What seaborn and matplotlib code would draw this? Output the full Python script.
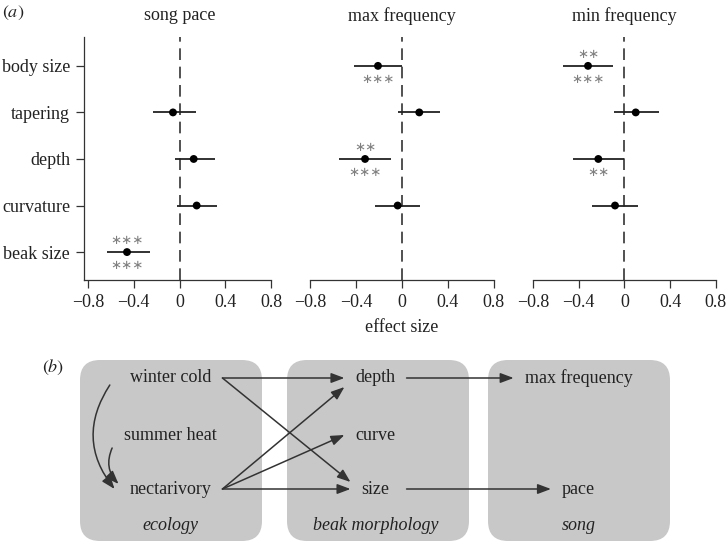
import numpy as np
import pandas as pd
import matplotlib
matplotlib.use("Agg")
import matplotlib.pyplot as plt
from matplotlib.patches import FancyBboxPatch
import seaborn as sns

# ---- data (panel a) ----
predictors = ["body size", "tapering", "depth", "curvature", "beak size"]
responses = ["song pace", "max frequency", "min frequency"]

pace_est = [np.nan, -0.057, 0.124, 0.150, -0.459]
pace_lo = [np.nan, -0.229, -0.037, -0.024, -0.636]
pace_hi = [np.nan, 0.144, 0.310, 0.328, -0.260]
pace_above = ["", "", "", "", "***"]
pace_below = ["", "", "", "", "***"]

maxf_est = [-0.210, 0.151, -0.323, -0.038, np.nan]
maxf_lo = [-0.420, -0.035, -0.548, -0.233, np.nan]
maxf_hi = [0.003, 0.335, -0.099, 0.160, np.nan]
maxf_above = ["", "", "**", "", ""]
maxf_below = ["***", "", "***", "", ""]

minf_est = [-0.318, 0.099, -0.228, -0.082, np.nan]
minf_lo = [-0.534, -0.091, -0.449, -0.283, np.nan]
minf_hi = [-0.100, 0.300, 0.000, 0.116, np.nan]
minf_above = ["**", "", "", "", ""]
minf_below = ["***", "", "**", "", ""]

xticks = [-0.8, -0.4, 0, 0.4, 0.8]
xtick_labels = ["\u22120.8", "\u22120.4", "0", "0.4", "0.8"]

# ---- data (panel b) ----
groups = ["ecology", "beak morphology", "song"]
ecology_nodes = ["winter cold", "summer heat", "nectarivory"]
beak_nodes = ["depth", "curve", "size"]
song_nodes = ["max frequency", "", "pace"]
links = [("winter cold", "depth"), ("winter cold", "size"),
         ("nectarivory", "depth"), ("nectarivory", "curve"),
         ("nectarivory", "size"), ("depth", "max frequency"),
         ("size", "pace")]
curved_links = [("winter cold", "nectarivory"), ("summer heat", "nectarivory")]

sns.set_style("ticks")
plt.rcParams["font.family"] = ["Liberation Serif", "DejaVu Serif"]
plt.rcParams["mathtext.fontset"] = "stix"

W, H = 728, 543
FS = 13
INK = "#222222"
fig = plt.figure(figsize=(W / 100, H / 100), dpi=100)

# full-figure axes in pixel units for the diagram and labels
dax = fig.add_axes([0, 0, 1, 1])
dax.set_xlim(0, W)
dax.set_ylim(H, 0)
dax.axis("off")


def px_axes(left, top, width, height):
    return fig.add_axes([left / W, 1 - (top + height) / H, width / W, height / H])


panels = [
    (pace_est, pace_lo, pace_hi, pace_above, pace_below),
    (maxf_est, maxf_lo, maxf_hi, maxf_above, maxf_below),
    (minf_est, minf_lo, minf_hi, minf_above, minf_below),
]
zeros_px = [179.5, 402.0, 624.4]
unit_px = 114.4
xlim = (-0.835, 0.835)
positions = [5, 4, 3, 2, 1]

for i, (est, lo, hi, above, below) in enumerate(panels):
    left = zeros_px[i] + xlim[0] * unit_px
    ax = px_axes(left, 37, (xlim[1] - xlim[0]) * unit_px, 243)
    ax.patch.set_alpha(0)
    df = pd.DataFrame({"predictor": predictors, "pos": positions, "est": est,
                       "lo": lo, "hi": hi, "above": above, "below": below})
    d = df.dropna()
    ax.axvline(0, color="#333333", lw=1.2, dashes=(7, 4), zorder=1)
    ax.hlines(d["pos"], d["lo"], d["hi"], color=INK, lw=1.3, zorder=2)
    sns.scatterplot(data=d, x="est", y="pos", ax=ax, color="black", s=32,
                    edgecolor="none", zorder=3, legend=False)
    for _, r in df.iterrows():
        if r["above"]:
            ax.text(r["est"], r["pos"] + 0.25, r["above"].replace("*", "\u2217"),
                    ha="center", va="center", fontsize=9.5, color="#808080",
                    family=["DejaVu Sans"])
        if r["below"]:
            ax.text(r["est"], r["pos"] - 0.29, r["below"].replace("*", "\u2217"),
                    ha="center", va="center", fontsize=9.5, color="#808080",
                    family=["DejaVu Sans"])
    ax.set_xlim(*xlim)
    ax.set_ylim(0.4, 5.62)
    ax.set_xlabel("")
    ax.set_ylabel("")
    ax.set_xticks(xticks)
    ax.set_xticklabels(xtick_labels)
    for s in ["top", "right"]:
        ax.spines[s].set_visible(False)
    for s in ["left", "bottom"]:
        ax.spines[s].set_color("#333333")
        ax.spines[s].set_linewidth(0.9)
    ax.tick_params(length=5.5, width=0.9, pad=4.5, labelsize=FS,
                   color="#333333", labelcolor=INK)
    if i == 0:
        ax.set_yticks(positions)
        ax.set_yticklabels(predictors)
        ax.spines["bottom"].set_bounds(xlim[0], 0.8)
    else:
        ax.spines["left"].set_visible(False)
        ax.set_yticks([])
        ax.spines["bottom"].set_bounds(-0.8, 0.8)
    fig.text(zeros_px[i] / W, 1 - 16 / H, responses[i], ha="center", va="center",
             fontsize=FS, color=INK)

fig.text(2 / W, 1 - 13 / H, r"$(a)$", ha="left", va="center", fontsize=FS, color=INK)
fig.text(402 / W, 1 - 328 / H, "effect size", ha="center", va="center",
         fontsize=FS, color=INK)

# ---- panel b: path diagram ----
dax.text(53, 367, r"$(b)$", ha="center", va="center", fontsize=FS, color=INK)
box_left = [80, 287, 488]
box_width = 182
col_x = [170.5, 375.5, 578.5]
row_y = [378, 435, 489]
columns = [ecology_nodes, beak_nodes, song_nodes]
for bx, cx, g in zip(box_left, col_x, groups):
    dax.add_patch(FancyBboxPatch((bx, 360), box_width, 181,
                                 boxstyle="round,pad=0,rounding_size=20",
                                 fc="#c8c8c8", ec="none", zorder=0))
    dax.text(cx, 525, g, ha="center", va="center", fontsize=FS, color=INK,
             style="italic")

texts = {}
col_of = {}
for ci, (cx, col) in enumerate(zip(col_x, columns)):
    for ry, name in zip(row_y, col):
        if name:
            texts[name] = dax.text(cx, ry, name, ha="center", va="center",
                                   fontsize=FS, color=INK, zorder=2)
            col_of[name] = ci

renderer = fig.canvas.get_renderer()
inv = dax.transData.inverted()
ext = {}
for name, t in texts.items():
    bb = t.get_window_extent(renderer)
    (x0, y0), (x1, y1) = inv.transform([(bb.x0, bb.y0), (bb.x1, bb.y1)])
    ext[name] = (x0, x1, t.get_position()[1])

# outgoing arrows of a column start at a common x, right of its widest source
sources = {a for a, _ in links}
col_out = {}
for name in sources:
    c = col_of[name]
    col_out[c] = max(col_out.get(c, 0), ext[name][1])

gap = 11
end_dy = {("winter cold", "size"): -7, ("nectarivory", "depth"): 9}
arrow_kw = dict(arrowstyle="-|>,head_length=0.8,head_width=0.3", color="#333333",
                lw=1.1, shrinkA=0, shrinkB=0, mutation_scale=10)
for a, b in links:
    start = (col_out[col_of[a]] + gap, ext[a][2])
    end = (ext[b][0] - gap, ext[b][2] + end_dy.get((a, b), 0))
    dax.annotate("", xy=end, xytext=start, arrowprops=arrow_kw, zorder=1)

curve_ports = {("winter cold", "nectarivory"): ((-20, 7), (-15, 0), 0.36),
               ("summer heat", "nectarivory"): ((-12, 13), (-11, -5), 0.33)}
for a, b in curved_links:
    (sdx, sdy), (edx, edy), rad = curve_ports[(a, b)]
    start = (ext[a][0] + sdx, ext[a][2] + sdy)
    end = (ext[b][0] + edx, ext[b][2] + edy)
    kw = dict(arrow_kw, connectionstyle=f"arc3,rad={rad}")
    dax.annotate("", xy=end, xytext=start, arrowprops=kw, zorder=1)

fig.savefig("out.png", dpi=100)
